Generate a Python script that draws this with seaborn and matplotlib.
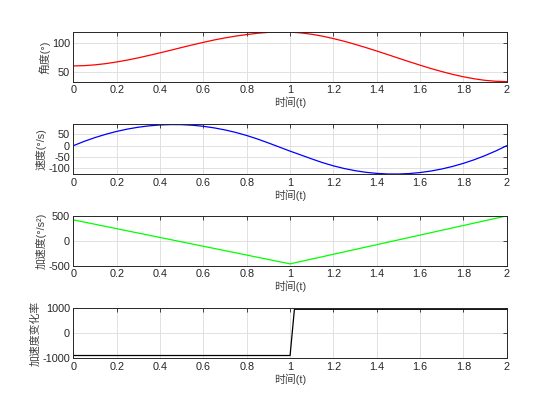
import matplotlib
matplotlib.use('Agg')
import matplotlib.pyplot as plt
from matplotlib.ticker import FuncFormatter
import seaborn as sns

sns.set_style('white')
plt.rcParams['font.family'] = ['Liberation Sans', 'Noto Sans CJK SC', 'DejaVu Sans']
plt.rcParams['axes.unicode_minus'] = False

# time samples (s)
t = [0.0, 0.05, 0.1, 0.15, 0.2, 0.25, 0.3, 0.35, 0.4, 0.45, 0.5,
     0.55, 0.6, 0.65, 0.7, 0.75, 0.8, 0.85, 0.9, 0.95, 1.0,
     1.05, 1.1, 1.15, 1.2, 1.25, 1.3, 1.35, 1.4, 1.45, 1.5,
     1.55, 1.6, 1.65, 1.7, 1.75, 1.8, 1.85, 1.9, 1.95, 2.0]

# angle (deg)
angle = [60.0, 60.5, 61.9, 64.0, 66.9, 70.3, 74.1, 78.4, 82.8, 87.4, 92.1,
         96.7, 101.0, 105.2, 108.8, 112.0, 114.6, 116.9, 118.4, 119.0, 118.9,
         117.5, 115.1, 111.8, 107.6, 102.9, 97.6, 91.9, 86.0, 79.8, 73.5,
         67.3, 61.3, 55.5, 50.2, 45.3, 41.1, 37.6, 34.9, 33.3, 32.7]

# velocity (deg/s)
velocity = [0.0, 19.0, 35.7, 50.3, 62.8, 73.1, 81.3, 87.3, 91.2, 92.9, 92.5,
            89.9, 85.2, 78.3, 69.3, 58.1, 44.7, 29.3, 12.0, -6.0, -24.0,
            -41.0, -58.3, -74.7, -88.8, -100.6, -110.0, -117.2, -122.0, -124.6, -124.8,
            -122.7, -118.3, -111.6, -102.6, -91.3, -77.7, -61.8, -43.5, -22.9, 0.0]

# acceleration (deg/s^2), piecewise linear
t_acc = [0.0, 1.0, 2.0]
accel = [420, -460, 500]

# jerk, step at t = 1
t_jerk = [0.0, 1.0, 1.02, 2.0]
jerk = [-890, -890, 960, 960]

ylabels = ['角度(°)', '速度(°/s)', '加速度(°/s²)', '加速度变化率']
colors = ['#ff0000', '#0000ff', '#00ff00', '#000000']
ylims = [(32.2, 119.2), (-126, 94), (-500, 500), (-1000, 1000)]
yticks = [[50, 100], [-100, -50, 0, 50], [-500, 0, 500], [-1000, 0, 1000]]
bottoms = [0.805, 0.585, 0.367, 0.147]

series = [(t, angle), (t, velocity), (t_acc, accel), (t_jerk, jerk)]

fig = plt.figure(figsize=(5.6, 4.2), dpi=100)
fig.patch.set_facecolor('white')
fmt = FuncFormatter(lambda v, p: '%g' % v)
for i in range(4):
    ax = fig.add_axes([0.131, bottoms[i], 0.774, 0.119])
    xs, ys = series[i]
    sns.lineplot(x=xs, y=ys, ax=ax, color=colors[i], linewidth=0.9)
    ax.set_xlim(0, 2)
    ax.set_ylim(*ylims[i])
    ax.set_xticks([0, 0.2, 0.4, 0.6, 0.8, 1.0, 1.2, 1.4, 1.6, 1.8, 2.0])
    ax.set_yticks(yticks[i])
    ax.xaxis.set_major_formatter(fmt)
    ax.yaxis.set_major_formatter(fmt)
    ax.grid(True, color='#dcdcdc', linewidth=0.6)
    ax.tick_params(direction='in', length=3, width=0.6, labelsize=7.8,
                   colors='#262626', top=True, right=True, pad=2.5)
    for s in ax.spines.values():
        s.set_color('#262626')
        s.set_linewidth(0.7)
    ax.set_xlabel('时间(t)', fontsize=7.8, color='#404040', labelpad=1)
    ax.set_ylabel(ylabels[i], fontsize=7.8, color='#404040', labelpad=1)

fig.savefig('out.png', dpi=100, facecolor='white')
